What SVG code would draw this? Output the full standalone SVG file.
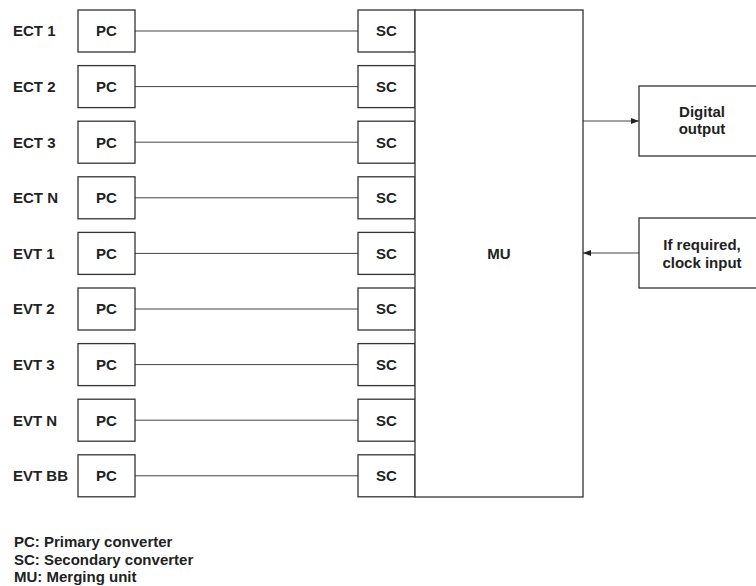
<svg xmlns="http://www.w3.org/2000/svg" width="756" height="586" viewBox="0 0 756 586">
<style>
text{font-family:"Liberation Sans",Arial,sans-serif;font-weight:bold;font-size:15px;fill:#222}
.c{text-anchor:middle}
.box{fill:#fff;stroke:#333;stroke-width:1.3}
.ln{stroke:#444;stroke-width:1;fill:none}
</style>
<defs>
<marker id="ah" markerWidth="8" markerHeight="6" refX="8" refY="3" orient="auto" markerUnits="userSpaceOnUse">
<path d="M0,0 L8,3 L0,6 Z" fill="#222"/>
</marker>
</defs>
<rect width="756" height="586" fill="#fff"/>
<g id="connectors">
<line class="ln" x1="135" y1="31" x2="358" y2="31"/>
<line class="ln" x1="135" y1="86.6" x2="358" y2="86.6"/>
<line class="ln" x1="135" y1="142.2" x2="358" y2="142.2"/>
<line class="ln" x1="135" y1="197.8" x2="358" y2="197.8"/>
<line class="ln" x1="135" y1="253.4" x2="358" y2="253.4"/>
<line class="ln" x1="135" y1="309" x2="358" y2="309"/>
<line class="ln" x1="135" y1="364.6" x2="358" y2="364.6"/>
<line class="ln" x1="135" y1="420.2" x2="358" y2="420.2"/>
<line class="ln" x1="135" y1="475.8" x2="358" y2="475.8"/>
<line class="ln" x1="583" y1="121" x2="639" y2="121" marker-end="url(#ah)"/>
<line class="ln" x1="639" y1="253" x2="583" y2="253" marker-end="url(#ah)"/>
</g>
<g id="row1"><text x="13" y="36.3">ECT 1</text><rect class="box" x="78" y="10" width="57" height="42"/><text class="c" x="106.5" y="36.3">PC</text><rect class="box" x="358" y="10" width="57" height="42"/><text class="c" x="386.5" y="36.3">SC</text></g>
<g id="row2"><text x="13" y="91.9">ECT 2</text><rect class="box" x="78" y="65.6" width="57" height="42"/><text class="c" x="106.5" y="91.9">PC</text><rect class="box" x="358" y="65.6" width="57" height="42"/><text class="c" x="386.5" y="91.9">SC</text></g>
<g id="row3"><text x="13" y="147.5">ECT 3</text><rect class="box" x="78" y="121.2" width="57" height="42"/><text class="c" x="106.5" y="147.5">PC</text><rect class="box" x="358" y="121.2" width="57" height="42"/><text class="c" x="386.5" y="147.5">SC</text></g>
<g id="row4"><text x="13" y="203.1">ECT N</text><rect class="box" x="78" y="176.8" width="57" height="42"/><text class="c" x="106.5" y="203.1">PC</text><rect class="box" x="358" y="176.8" width="57" height="42"/><text class="c" x="386.5" y="203.1">SC</text></g>
<g id="row5"><text x="13" y="258.7">EVT 1</text><rect class="box" x="78" y="232.4" width="57" height="42"/><text class="c" x="106.5" y="258.7">PC</text><rect class="box" x="358" y="232.4" width="57" height="42"/><text class="c" x="386.5" y="258.7">SC</text></g>
<g id="row6"><text x="13" y="314.3">EVT 2</text><rect class="box" x="78" y="288" width="57" height="42"/><text class="c" x="106.5" y="314.3">PC</text><rect class="box" x="358" y="288" width="57" height="42"/><text class="c" x="386.5" y="314.3">SC</text></g>
<g id="row7"><text x="13" y="369.9">EVT 3</text><rect class="box" x="78" y="343.6" width="57" height="42"/><text class="c" x="106.5" y="369.9">PC</text><rect class="box" x="358" y="343.6" width="57" height="42"/><text class="c" x="386.5" y="369.9">SC</text></g>
<g id="row8"><text x="13" y="425.5">EVT N</text><rect class="box" x="78" y="399.2" width="57" height="42"/><text class="c" x="106.5" y="425.5">PC</text><rect class="box" x="358" y="399.2" width="57" height="42"/><text class="c" x="386.5" y="425.5">SC</text></g>
<g id="row9"><text x="13" y="481.1">EVT BB</text><rect class="box" x="78" y="454.8" width="57" height="42"/><text class="c" x="106.5" y="481.1">PC</text><rect class="box" x="358" y="454.8" width="57" height="42"/><text class="c" x="386.5" y="481.1">SC</text></g>
<g id="mu"><rect class="box" x="415" y="10" width="168" height="487"/><text class="c" x="499" y="258.5">MU</text></g>
<g id="digital-output"><rect class="box" x="639" y="86" width="130" height="70"/><text class="c" x="702" y="116.5">Digital</text><text class="c" x="702" y="133.5">output</text></g>
<g id="clock-input"><rect class="box" x="639" y="218" width="130" height="70"/><text class="c" x="702" y="250">If required,</text><text class="c" x="702" y="267.5">clock input</text></g>
<g id="legend"><text x="14" y="546.5">PC: Primary converter</text><text x="14" y="564.5">SC: Secondary converter</text><text x="14" y="582">MU: Merging unit</text></g>
</svg>
